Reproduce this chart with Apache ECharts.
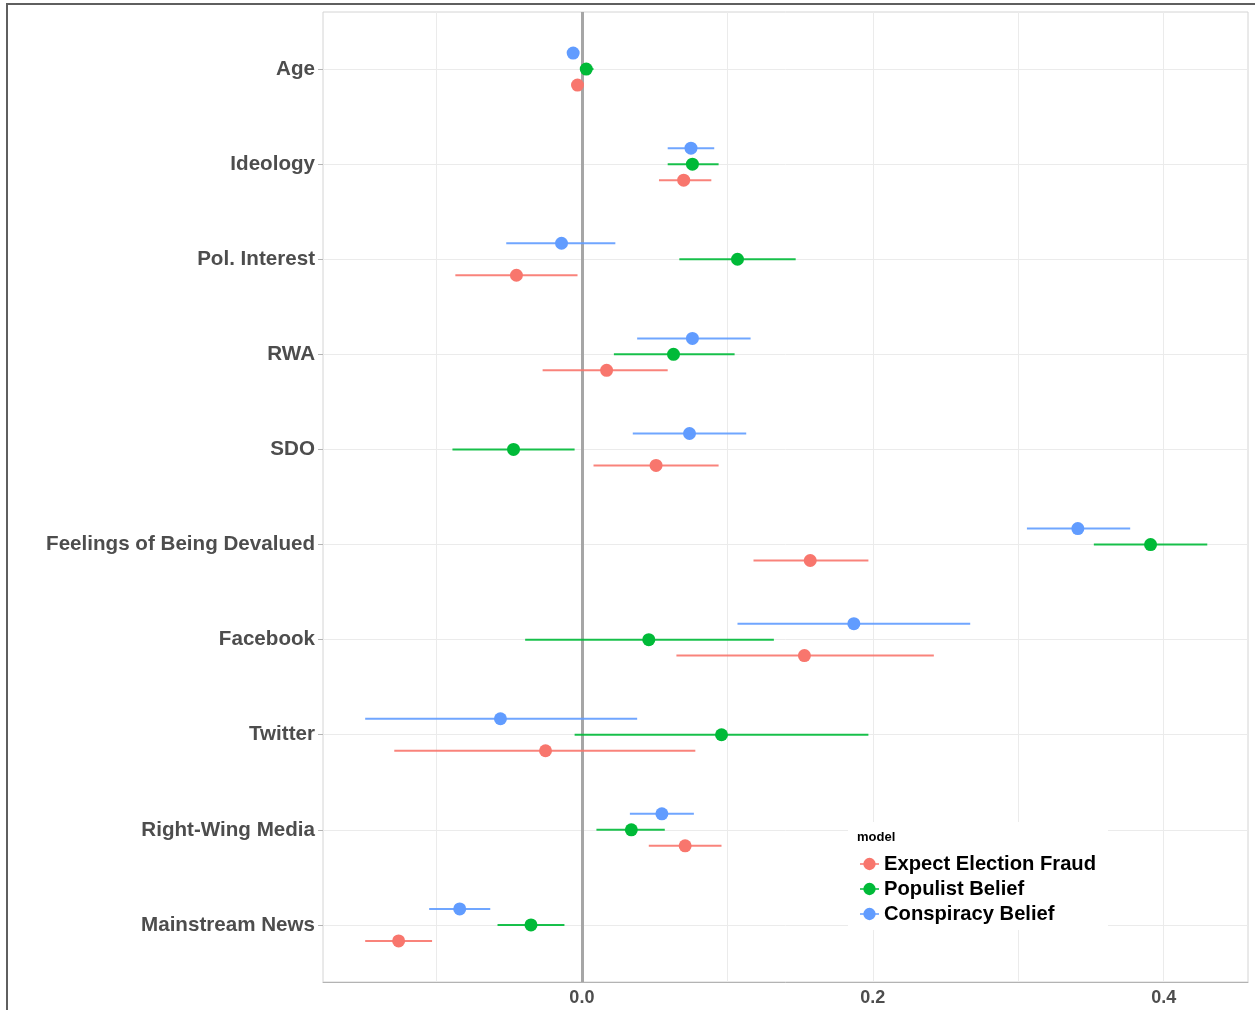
<!DOCTYPE html>
<html><head><meta charset="utf-8">
<script src="https://cdn.jsdelivr.net/npm/echarts@6/dist/echarts.min.js"></script>
<style>html,body{margin:0;padding:0;background:#fff}#c{width:1255px;height:1010px}</style>
</head><body><div id="c"></div>
<script>
const categories = ['Age','Ideology','Pol. Interest','RWA','SDO','Feelings of Being Devalued','Facebook','Twitter','Right-Wing Media','Mainstream News'];
const modelNames = ['Expect Election Fraud','Populist Belief','Conspiracy Belief'];
const xTickLabels = [0, 0.2, 0.4];
const xGridValues = [-0.1, 0, 0.1, 0.2, 0.3, 0.4];

const fraudEst = [-0.003, 0.070, -0.045, 0.017, 0.051, 0.157, 0.153, -0.025, 0.071, -0.126];
const fraudLo  = [-0.006, 0.053, -0.087, -0.027, 0.008, 0.118, 0.065, -0.129, 0.046, -0.149];
const fraudHi  = [-0.001, 0.089, -0.003, 0.059, 0.094, 0.197, 0.242, 0.078, 0.096, -0.103];

const populistEst = [0.003, 0.076, 0.107, 0.063, -0.047, 0.391, 0.046, 0.096, 0.034, -0.035];
const populistLo  = [-0.001, 0.059, 0.067, 0.022, -0.089, 0.352, -0.039, -0.005, 0.010, -0.058];
const populistHi  = [0.008, 0.094, 0.147, 0.105, -0.005, 0.430, 0.132, 0.197, 0.057, -0.012];

const conspEst = [-0.006, 0.075, -0.014, 0.076, 0.074, 0.341, 0.187, -0.056, 0.055, -0.084];
const conspLo  = [-0.009, 0.059, -0.052, 0.038, 0.035, 0.306, 0.107, -0.149, 0.033, -0.105];
const conspHi  = [-0.003, 0.091, 0.023, 0.116, 0.113, 0.377, 0.267, 0.038, 0.077, -0.063];

const FONT = '"Liberation Sans", Arial, Helvetica, sans-serif';
const models = [
  {name: modelNames[0], color: '#F8766D', est: fraudEst, lo: fraudLo, hi: fraudHi, dodge: 0.168},
  {name: modelNames[1], color: '#00BA38', est: populistEst, lo: populistLo, hi: populistHi, dodge: 0},
  {name: modelNames[2], color: '#619CFF', est: conspEst, lo: conspLo, hi: conspHi, dodge: -0.168}
];
const iconPath = 'path://M0,5.7H20V7.3H0Z M10,0A6.5,6.5 0 1,1 9.99,0Z';

const series = models.map((m, k) => ({
  name: m.name,
  type: 'custom',
  itemStyle: {color: m.color},
  encode: {x: [1, 2, 3], y: 0},
  data: categories.map((c, i) => [i, m.est[i], m.lo[i], m.hi[i]]),
  renderItem: function (params, api) {
    const i = api.value(0) + m.dodge;
    const p = api.coord([api.value(1), i]);
    const a = api.coord([api.value(2), i]);
    const b = api.coord([api.value(3), i]);
    return {type: 'group', children: [
      {type: 'line', shape: {x1: a[0], y1: a[1], x2: b[0], y2: b[1]}, style: {stroke: m.color, lineWidth: 2, opacity: 0.9}},
      {type: 'circle', shape: {cx: p[0], cy: p[1], r: 6.5}, style: {fill: m.color}}
    ]};
  },
  markLine: k === 0 ? {
    silent: true, symbol: 'none', label: {show: false},
    lineStyle: {color: '#a6a6a6', width: 3, type: 'solid'},
    data: [{xAxis: 0}], z: 1
  } : undefined
}));

const chart = echarts.init(document.getElementById('c'), null, {renderer: 'canvas'});
chart.setOption({
  animation: false,
  backgroundColor: '#ffffff',
  grid: {left: 323, right: 7, top: 12, bottom: 28, show: true, borderColor: '#d4d4d4', borderWidth: 1, containLabel: false},
  xAxis: {
    type: 'value', min: -0.178, max: 0.458,
    axisLine: {show: true, onZero: false, lineStyle: {color: '#b3b3b3', width: 1}},
    axisTick: {show: false, customValues: xGridValues},
    axisLabel: {customValues: xTickLabels, formatter: v => v.toFixed(1), fontFamily: FONT, fontWeight: 'bold', fontSize: 18, color: '#4d4d4d', margin: 7},
    splitLine: {show: true, lineStyle: {color: '#ebebeb', width: 1}}
  },
  yAxis: {
    type: 'value', min: -0.6, max: 9.6, inverse: true,
    axisLine: {show: false, onZero: false},
    axisTick: {show: true, customValues: categories.map((c, i) => i), length: 5, lineStyle: {color: '#b3b3b3'}},
    axisLabel: {customValues: categories.map((c, i) => i), formatter: v => categories[Math.round(v)], fontFamily: FONT, fontWeight: 'bold', fontSize: 20.6, color: '#4d4d4d', margin: 8},
    splitLine: {show: true, lineStyle: {color: '#ebebeb', width: 1}}
  },
  legend: {
    data: modelNames.map((n, k) => ({name: n, icon: iconPath, itemStyle: {color: models[k].color}})),
    orient: 'vertical', left: 860, top: 854, padding: 0,
    itemWidth: 19, itemHeight: 13, itemGap: 5, itemTextGap: 16,
    textStyle: {fontFamily: FONT, fontWeight: 'bold', fontSize: 20.2, color: '#000'},
    selectedMode: false, z: 6
  },
  graphic: [
    {type: 'line', shape: {x1: 7, y1: 3, x2: 7, y2: 1010}, style: {stroke: '#5f5f5f', lineWidth: 2}, z: 10},
    {type: 'line', shape: {x1: 6, y1: 4, x2: 1255, y2: 4}, style: {stroke: '#5f5f5f', lineWidth: 2}, z: 10},
    {type: 'rect', shape: {x: 848, y: 822, width: 260, height: 108}, style: {fill: '#ffffff'}, z: 3},
    {type: 'text', x: 857, y: 831, style: {text: 'model', font: 'bold 13px ' + FONT, fill: '#000'}, z: 5}
  ],
  series: series
});
</script></body></html>
